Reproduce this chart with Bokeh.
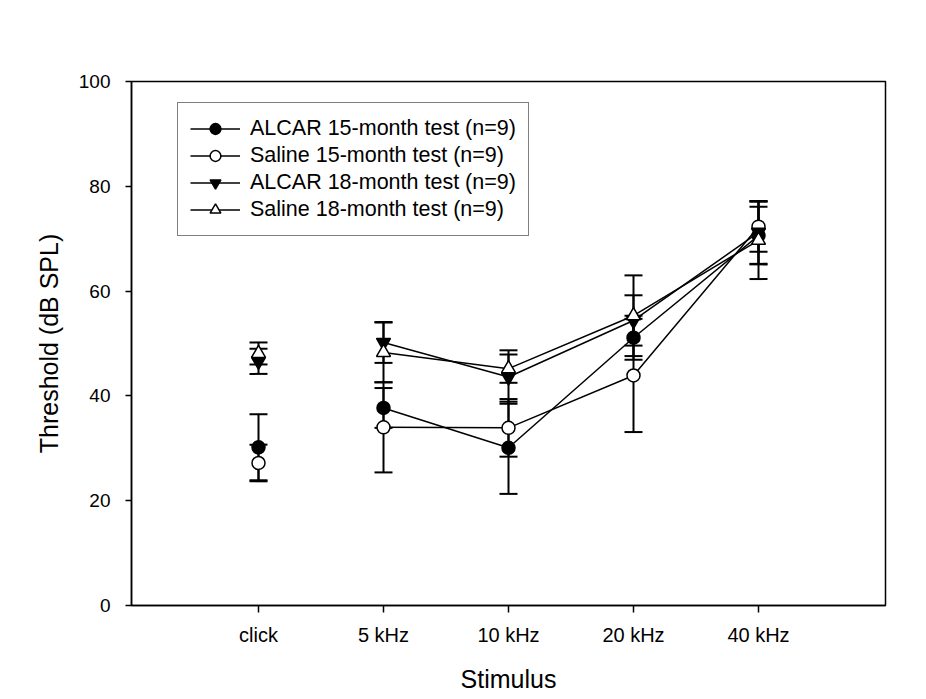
from bokeh.plotting import figure
from bokeh.models import (ColumnDataSource, Whisker, TeeHead, Legend, LegendItem,
                          FixedTicker, Range1d)
from bokeh.embed import file_html
from bokeh.resources import INLINE

categories = ["click", "5 kHz", "10 kHz", "20 kHz", "40 kHz"]
xpos = [1, 2, 3, 4, 5]

alcar15 = [30.2, 37.7, 30.1, 51.1, 70.6]
alcar15_err = [6.3, 3.8, 8.8, 4.2, 5.5]
saline15 = [27.2, 34.0, 33.9, 43.9, 72.3]
saline15_err = [3.5, 8.6, 5.5, 10.8, 4.8]
alcar18 = [46.6, 50.2, 43.6, 54.4, 71.2]
alcar18_err = [2.4, 3.9, 5.1, 4.8, 6.0]
saline18 = [48.1, 48.3, 45.2, 55.3, 69.7]
saline18_err = [2.1, 5.7, 2.7, 7.7, 7.4]

labels = ["ALCAR 15-month test (n=9)", "Saline 15-month test (n=9)",
          "ALCAR 18-month test (n=9)", "Saline 18-month test (n=9)"]

FONT = "Liberation Sans"

p = figure(frame_width=754, frame_height=524, output_backend="svg", toolbar_location=None,
           x_range=Range1d(-0.016, 6.016), y_range=Range1d(0, 100),
           min_border_left=131, min_border_right=33, min_border_top=81, min_border_bottom=86)
p.xgrid.visible = False
p.ygrid.visible = False
p.outline_line_color = "black"
p.outline_line_width = 1.5
p.background_fill_color = "white"
p.border_fill_color = "white"

series = [
    (alcar15, alcar15_err, "circle", "black"),
    (saline15, saline15_err, "circle", "white"),
    (alcar18, alcar18_err, "inverted_triangle", "black"),
    (saline18, saline18_err, "triangle", "white"),
]

items = []
for (vals, errs, marker, fill), lab in zip(series, labels):
    src = ColumnDataSource(dict(
        x=xpos, y=vals,
        upper=[v + e for v, e in zip(vals, errs)],
        lower=[v - e for v, e in zip(vals, errs)],
    ))
    w = Whisker(source=src, base="x", upper="upper", lower="lower",
                line_color="black", line_width=2, level="underlay",
                upper_head=TeeHead(size=18, line_width=2, line_color="black"),
                lower_head=TeeHead(size=18, line_width=2, line_color="black"))
    p.add_layout(w)
    line_src = ColumnDataSource(dict(x=xpos[1:], y=vals[1:]))
    lr = p.line("x", "y", source=line_src, line_color="black", line_width=1.5)
    size = 13 if marker == "circle" else 14
    sr = p.scatter("x", "y", source=src, marker=marker, size=size,
                   fill_color=fill, line_color="black", line_width=1.5)
    items.append(LegendItem(label=lab, renderers=[lr, sr]))

legend = Legend(items=items, location=(46, 369),
                label_text_font=FONT, label_text_font_size="21.5px",
                label_text_color="black",
                glyph_width=50, glyph_height=27, label_height=27,
                label_standoff=10, spacing=0, padding=12, margin=0,
                border_line_color="black", border_line_width=1.2,
                background_fill_color="white", background_fill_alpha=1.0)
p.add_layout(legend, "center")

p.xaxis.ticker = FixedTicker(ticks=xpos)
p.xaxis.major_label_overrides = {x: c for x, c in zip(xpos, categories)}
p.yaxis.ticker = FixedTicker(ticks=[0, 20, 40, 60, 80, 100])

for ax in (p.xaxis[0], p.yaxis[0]):
    ax.axis_line_color = "black"
    ax.axis_line_width = 1.5
    ax.major_tick_line_color = "black"
    ax.major_tick_line_width = 1.5
    ax.major_tick_in = 0
    ax.minor_tick_line_color = None
    ax.major_label_text_font = FONT
    ax.major_label_text_color = "black"
    ax.axis_label_text_font = FONT
    ax.axis_label_text_font_size = "25px"
    ax.axis_label_text_font_style = "normal"
    ax.axis_label_text_color = "black"

p.xaxis.major_label_text_font_size = "20px"
p.yaxis.major_label_text_font_size = "19px"
p.xaxis.major_label_standoff = 11
p.yaxis.major_label_standoff = 15
p.xaxis.major_tick_out = 7
p.yaxis.major_tick_out = 6
p.xaxis.axis_label = "Stimulus"
p.yaxis.axis_label = "Threshold (dB SPL)"
p.xaxis.axis_label_standoff = 16
p.yaxis.axis_label_standoff = 13

open("out.html", "w").write(file_html(p, INLINE))
